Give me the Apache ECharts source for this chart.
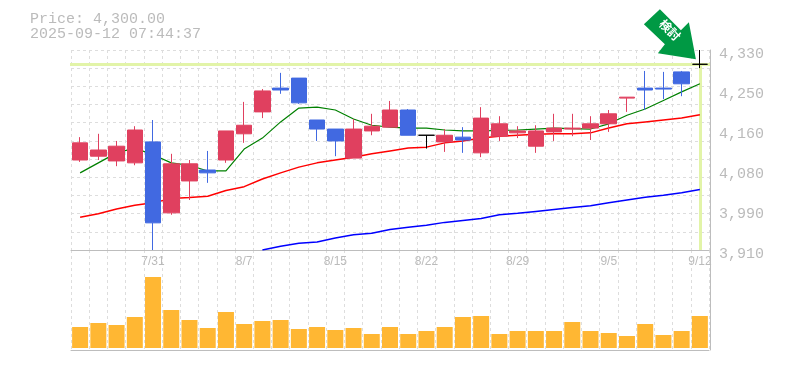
<!DOCTYPE html>
<html><head><meta charset="utf-8">
<style>html,body{margin:0;padding:0;background:#fff}#c{width:785px;height:370px}</style>
<script src="https://cdn.jsdelivr.net/npm/echarts@6/dist/echarts.min.js"></script>
</head><body><div id="c"></div>
<script>
const dates = ['7/25','7/28','7/29','7/30','7/31','8/1','8/4','8/5','8/6','8/7','8/8','8/12','8/13','8/14','8/15','8/18','8/19','8/20','8/21','8/22','8/25','8/26','8/27','8/28','8/29','9/1','9/2','9/3','9/4','9/5','9/8','9/9','9/10','9/11','9/12'];
const opens  = [4099,4107,4097,4093,4137,3988,4055,4078,4099,4154,4200,4250,4271,4183,4164,4103,4160,4168,4204,4151,4137,4147,4114,4149,4156,4128,4158,4164,4166,4175,4229,4250,4250,4284,4300];
const closes = [4135,4120,4128,4162,3967,4091,4091,4072,4160,4172,4244,4246,4219,4164,4139,4164,4170,4204,4151,4151,4151,4141,4187,4175,4160,4160,4166,4166,4175,4196,4231,4246,4248,4259,4300];
const highs  = [4147,4154,4139,4170,4183,4112,4099,4118,4160,4221,4248,4282,4271,4183,4164,4185,4196,4223,4206,4151,4164,4168,4210,4191,4170,4172,4196,4196,4191,4204,4231,4286,4284,4286,4330];
const lows   = [4095,4099,4086,4088,3910,3984,4015,4051,4093,4135,4187,4238,4217,4139,4107,4103,4151,4168,4151,4123,4116,4114,4105,4139,4145,4114,4139,4149,4141,4158,4200,4204,4227,4233,4292];
const maShort = [4072,4093,4114,4124,4110,4093,4088,4076,4076,4122,4145,4179,4208,4210,4204,4185,4172,4168,4166,4166,4162,4160,4160,4161,4162,4164,4166,4165,4164,4175,4193,4206,4224,4242,4259];
const maMid   = [3979,3986,3996,4004,4009,4018,4020,4023,4035,4043,4059,4072,4084,4093,4099,4105,4112,4118,4124,4126,4135,4139,4145,4149,4151,4153,4154,4154,4156,4166,4175,4179,4183,4187,4194];
const maLong  = [null,null,null,null,null,null,null,null,null,null,3910,3918,3924,3927,3935,3942,3945,3953,3958,3962,3968,3972,3976,3984,3987,3991,3995,3999,4003,4009,4015,4021,4025,4030,4037];
const volumes = [21,25,23,31,71,38,28,20,36,24,27,28,19,21,18,20,14,21,14,17,21,31,32,14,17,17,17,26,17,15,12,24,13,17,32];
const priceTicks = [3910,3994,4078,4162,4246,4330];
const priceTickLabels = ['3,910','3,990','4,080','4,160','4,250','4,330'];
const currentPrice = 4300;
const titleLines = ['Price: 4,300.00','2025-09-12 07:44:37'];
const badgeText = '検討';

const GRAY='#bdbdbd', DASH='#dddddd', MONO='"Liberation Mono","DejaVu Sans Mono",monospace';
const candle = dates.map((d,i)=>[opens[i],closes[i],lows[i],highs[i]]);
const last = dates[dates.length-1];
const splitX = {show:true,interval:0,lineStyle:{color:DASH,type:[3,3],width:1}};
const chart = echarts.init(document.getElementById('c'),null,{renderer:'canvas'});
chart.setOption({
  animation:false,
  backgroundColor:'#fff',
  title:{text:titleLines.join('\n'),left:25,top:7,textStyle:{fontFamily:MONO,fontSize:15,fontWeight:'normal',color:'#bbbbbb',lineHeight:15}},
  grid:[{left:71,top:50,width:638,height:200},{left:71,top:250,width:638,height:100}],
  xAxis:[
    {type:'category',gridIndex:0,data:dates,boundaryGap:true,
     axisLine:{show:true,onZero:false,lineStyle:{color:GRAY,width:1}},axisTick:{show:false},
     axisLabel:{show:true,interval:(i)=>i%5===4,margin:6,color:'#bbbbbb',fontFamily:'"Liberation Sans",Arial,sans-serif',fontSize:12,hideOverlap:false},
     splitLine:splitX},
    {type:'category',gridIndex:1,data:dates,boundaryGap:true,
     axisLine:{show:true,onZero:false,lineStyle:{color:GRAY,width:1}},axisTick:{show:false},axisLabel:{show:false},
     splitLine:splitX}
  ],
  yAxis:[
    {type:'value',gridIndex:0,position:'right',offset:1,min:3910,max:4330,
     axisLine:{show:true,lineStyle:{color:GRAY,width:1}},axisTick:{show:false},splitLine:{show:false},
     axisLabel:{show:true,customValues:priceTicks,margin:9,color:'#bbbbbb',fontFamily:MONO,fontSize:15,verticalAlign:'top',lineHeight:8,
       formatter:(v)=>priceTickLabels[priceTicks.indexOf(v)]}},
    {type:'value',gridIndex:0,position:'left',min:0,max:11,interval:1,
     axisLine:{show:false},axisTick:{show:false},axisLabel:{show:false},
     splitLine:{show:true,lineStyle:{color:DASH,type:[3,3],width:1}}},
    {type:'value',gridIndex:1,position:'right',offset:1,min:-2,max:98,
     axisLine:{show:true,lineStyle:{color:GRAY,width:1}},axisTick:{show:false},axisLabel:{show:false},splitLine:{show:false}}
  ],
  series:[
    {type:'line',name:'long',data:maLong,xAxisIndex:0,yAxisIndex:0,showSymbol:false,symbol:'none',z:2,connectNulls:false,lineStyle:{color:'#0000ff',width:1.5}},
    {type:'line',name:'mid',data:maMid,xAxisIndex:0,yAxisIndex:0,showSymbol:false,symbol:'none',z:2,lineStyle:{color:'#ff0000',width:1.5}},
    {type:'line',name:'short',data:maShort,xAxisIndex:0,yAxisIndex:0,showSymbol:false,symbol:'none',z:2,lineStyle:{color:'#008000',width:1.2}},
    {type:'candlestick',data:candle,xAxisIndex:0,yAxisIndex:0,barWidth:16,z:3,clip:false,
     itemStyle:{color:'#e0405f',color0:'#4169e1',borderColor:'#e0405f',borderColor0:'#4169e1',borderColorDoji:'#000000',borderWidth:1},
     markLine:{silent:true,symbol:'none',z:1,label:{show:false},animation:false,
       lineStyle:{color:'#e2f4a8',width:3,type:'solid'},
       data:[[{coord:[dates[0],currentPrice],x:70},{coord:[last,currentPrice],x:710}],
             [{coord:[last,currentPrice]},{coord:[last,3910]}]]},
     markPoint:{silent:true,z:6,animation:false,
       data:[{coord:[last,currentPrice],symbol:'path://M16,0 L0,15 L21,35 L14,44 L52,50 L45,13 L37,21 Z',symbolSize:[52,50],symbolOffset:[-30,-30],
         itemStyle:{color:'#009944'},
         label:{show:true,formatter:badgeText,position:'inside',offset:[-3,-3],rotate:-45,color:'#fff',fontSize:12,fontWeight:'bold',fontFamily:'"Noto Sans CJK JP"'}}]}},
    {type:'bar',data:volumes,xAxisIndex:1,yAxisIndex:2,barWidth:16,itemStyle:{color:'#ffb733'}}
  ]
});
</script></body></html>
